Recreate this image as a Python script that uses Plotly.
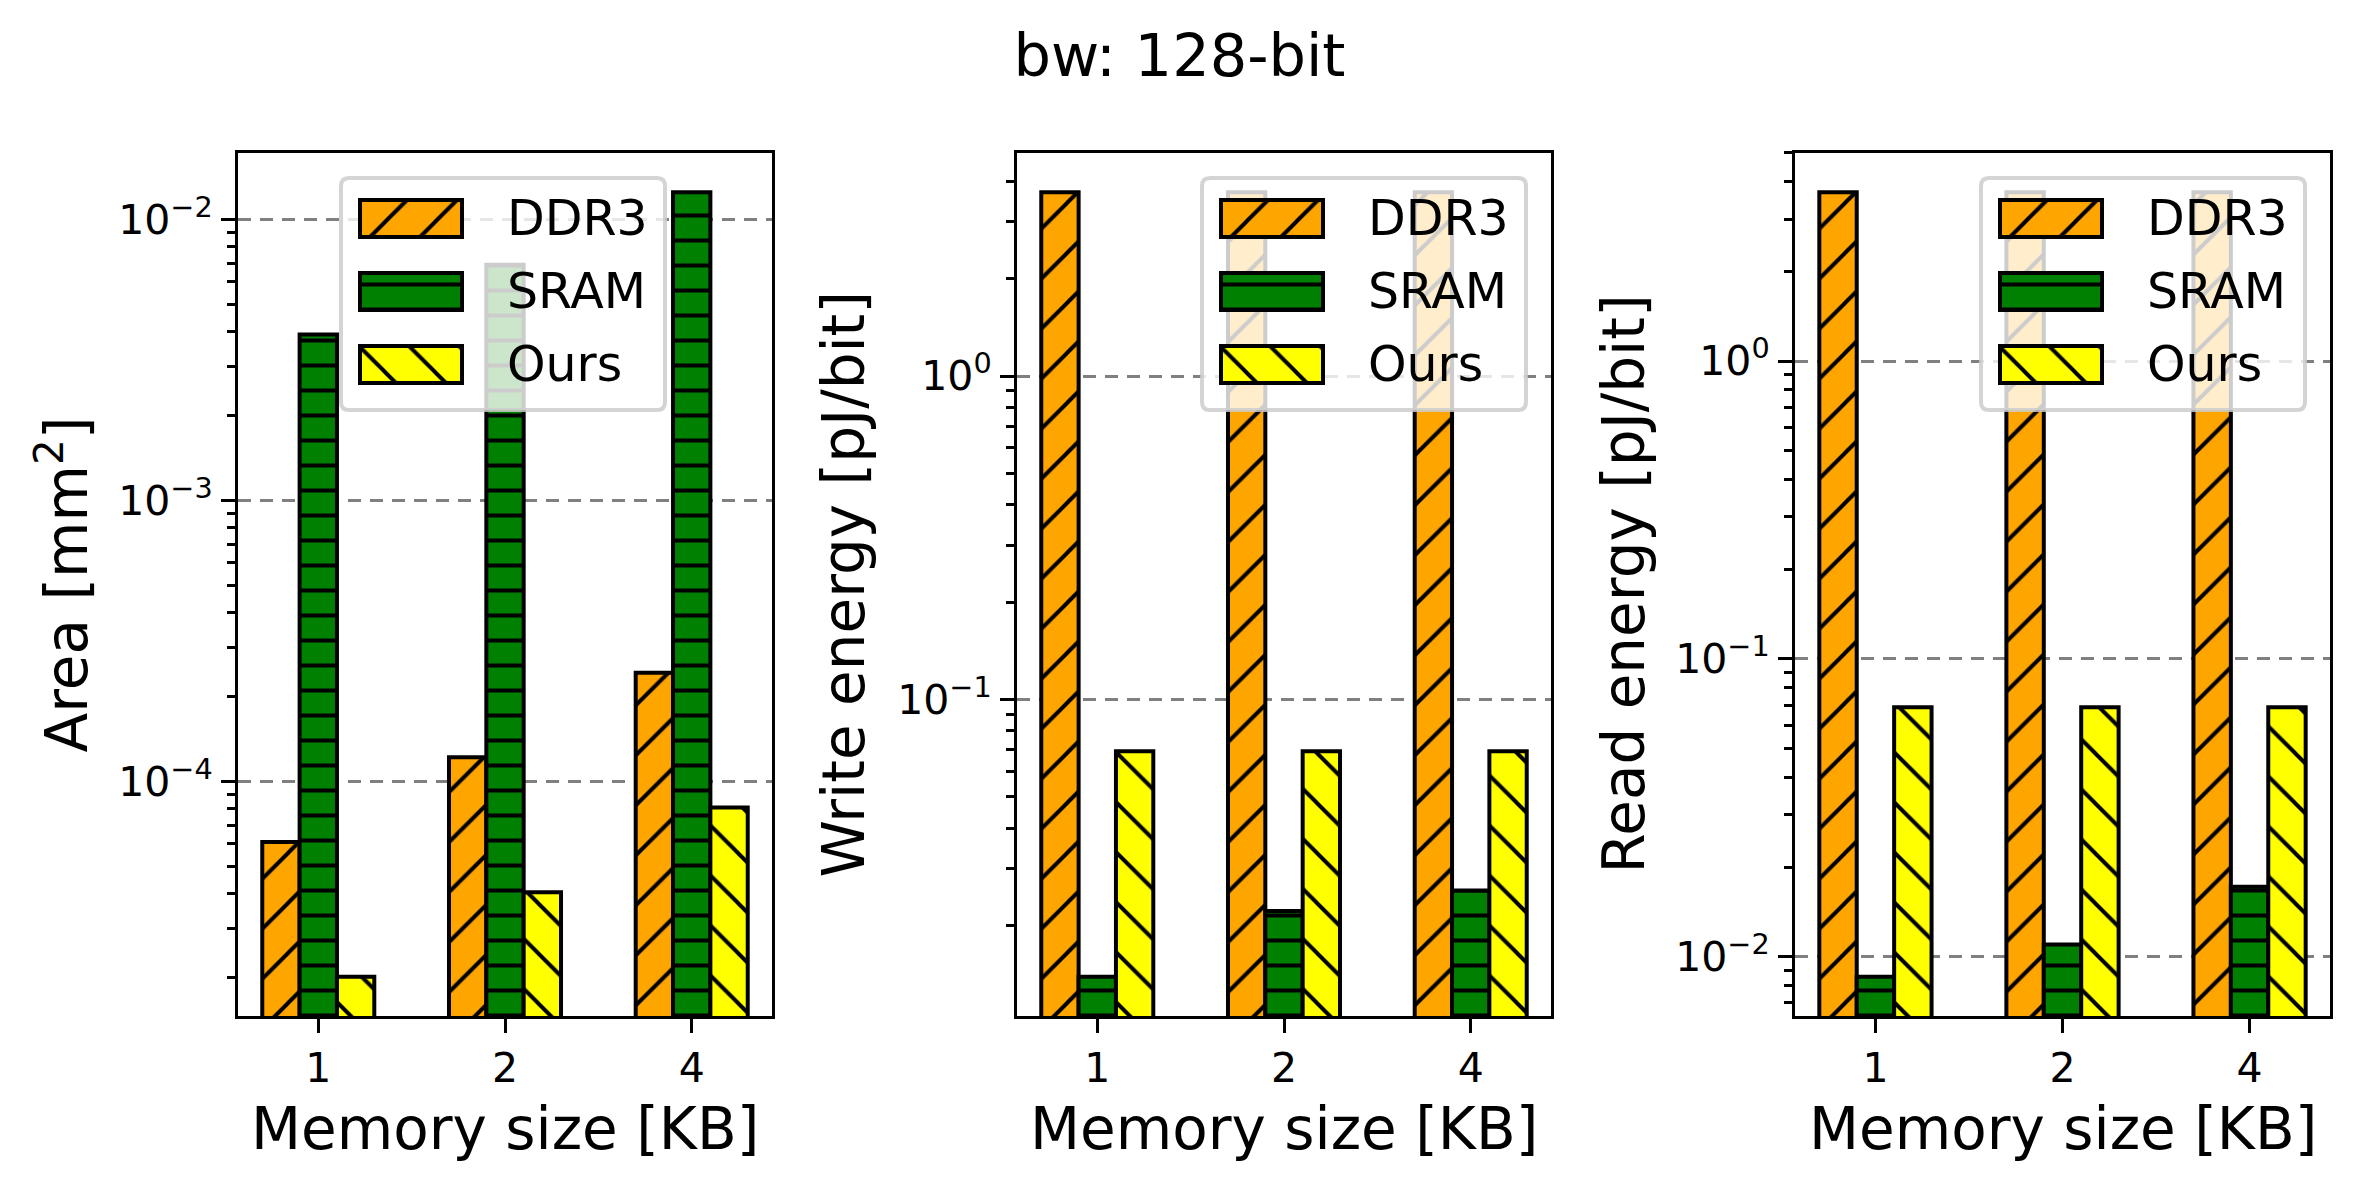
import numpy as np
import plotly.graph_objects as go

# ---------------- data ----------------
sizes = ["1", "2", "4"]                      # memory size [KB]
series = ["DDR3", "SRAM", "Ours"]

area_ddr3 = [6.1e-5, 1.22e-4, 2.44e-4]
area_sram = [3.9e-3, 6.9e-3, 1.25e-2]
area_ours = [2.02e-5, 4.04e-5, 8.08e-5]

write_ddr3 = [3.7, 3.7, 3.7]
write_sram = [0.0139, 0.0222, 0.0257]
write_ours = [0.0692, 0.0692, 0.0692]

read_ddr3 = [3.69, 3.69, 3.69]
read_sram = [0.00857, 0.0110, 0.0172]
read_ours = [0.0689, 0.0689, 0.0689]

title_text = "bw: 128-bit"
xlabel_text = "Memory size [KB]"
ylabels = ["Area [mm<sup>2</sup>]", "Write energy [pJ/bit]", "Read energy [pJ/bit]"]

panel_data = [
    [area_ddr3, area_sram, area_ours],
    [write_ddr3, write_sram, write_ours],
    [read_ddr3, read_sram, read_ours],
]

# ---------------- style / layout ----------------
W, H = 2359, 1191
FONT = "DejaVu Sans"
fills = ["#FFA500", "#008000", "#FFFF00"]
pat_shapes = ["/", "-", "\\"]
pat_sizes = [35.36, 25.0, 35.36]
pat_solid = [0.113, 0.16, 0.113]

ax_x_px = [(238, 772), (1017, 1551), (1795, 2330)]
ax_top_px, ax_bot_px = 153, 1016
legend_left_px = [341, 1202, 1981]
legend_top_px = 178
LEG_W, LEG_H, PAD = 324, 232, 6
SW_X0, SW_W, SW_H = 19, 102, 37
ROW0, ROW_DY = 40.5, 73
TXT_X = 164

SPINE_W = 3.3
EDGE_W = 4


def fx(px):
    return px / W


def fy(py):
    return 1 - py / H


def bar_marker(s):
    return dict(
        color=fills[s],
        line=dict(color="black", width=EDGE_W),
        pattern=dict(shape=pat_shapes[s], size=pat_sizes[s], solidity=pat_solid[s],
                     fgcolor="black", bgcolor=fills[s], fillmode="replace"),
    )


fig = go.Figure()
layout_axes = {}
annotations = []
shapes = []

for k in range(3):
    xa = "x" if k == 0 else f"x{k+1}"
    ya = "y" if k == 0 else f"y{k+1}"
    vals_all = panel_data[k]
    for s, name in enumerate(series):
        fig.add_trace(go.Bar(
            x=sizes, y=vals_all[s], name=name, xaxis=xa, yaxis=ya,
            showlegend=False, marker=bar_marker(s),
        ))

    flat = [v for arr in vals_all for v in arr]
    lo, hi = np.log10(min(flat)), np.log10(max(flat))
    m = 0.05 * (hi - lo)
    ylo, yhi = lo - m, hi + m
    decades = list(range(int(np.ceil(ylo)), int(np.floor(yhi)) + 1))
    tickvals = [10.0 ** d for d in decades]
    ticktext = ["10<sup>" + (("\u2212" + str(-d)) if d < 0 else str(d)) + "</sup>" for d in decades]
    minor_vals = [mm * 10.0 ** d for d in range(int(np.floor(ylo)), int(np.ceil(yhi)) + 1)
                  for mm in range(2, 10)]

    l, r = ax_x_px[k]
    xkey = "xaxis" if k == 0 else f"xaxis{k+1}"
    ykey = "yaxis" if k == 0 else f"yaxis{k+1}"
    layout_axes[xkey] = dict(
        domain=[fx(l), fx(r)], anchor=ya, type="category",
        range=[-0.43, 2.43], showline=True, mirror=True, linecolor="black",
        linewidth=SPINE_W, ticks="outside", ticklen=14, tickwidth=SPINE_W,
        tickcolor="black", tickfont=dict(family=FONT, size=41, color="black"),
        showgrid=False, zeroline=False, fixedrange=True,
    )
    layout_axes[ykey] = dict(
        domain=[fy(ax_bot_px), fy(ax_top_px)], anchor=xa, type="log",
        range=[ylo, yhi], tickmode="array", tickvals=tickvals, ticktext=ticktext,
        ticks="outside", ticklen=14, tickwidth=SPINE_W, tickcolor="black",
        tickfont=dict(family=FONT, size=41, color="black"),
        showline=True, mirror=True, linecolor="black", linewidth=SPINE_W,
        showgrid=True, gridcolor="#808080", gridwidth=3.3, griddash="13px,9px",
        zeroline=False, fixedrange=True,
        minor=dict(tickmode="array", tickvals=minor_vals, ticks="outside",
                   ticklen=8, tickwidth=2.5, tickcolor="black", showgrid=False),
    )

    # axis labels
    annotations.append(dict(
        text=xlabel_text, xref="paper", yref="paper", x=fx((l + r) / 2), y=fy(1129),
        xanchor="center", yanchor="middle", showarrow=False,
        font=dict(family=FONT, size=58, color="black"),
    ))
    ylab_x = [62, 843, 1623][k]
    annotations.append(dict(
        text=ylabels[k], xref="paper", yref="paper", x=fx(ylab_x),
        y=fy((ax_top_px + ax_bot_px) / 2), xanchor="center", yanchor="middle",
        textangle=-90, showarrow=False, font=dict(family=FONT, size=58, color="black"),
    ))

    # ---- legend (drawn in its own small subplot) ----
    lk = k + 4
    lxa, lya = f"x{lk}", f"y{lk}"
    L = legend_left_px[k]
    layout_axes[f"xaxis{lk}"] = dict(
        domain=[fx(L - PAD), fx(L + LEG_W + PAD)], range=[-PAD, LEG_W + PAD],
        anchor=lya, visible=False, fixedrange=True,
    )
    layout_axes[f"yaxis{lk}"] = dict(
        domain=[fy(legend_top_px + LEG_H + PAD), fy(legend_top_px - PAD)],
        range=[LEG_H + PAD, -PAD], anchor=lxa, visible=False, fixedrange=True,
    )
    rr = 8
    path = (f"M {rr},0 L {LEG_W-rr},0 Q {LEG_W},0 {LEG_W},{rr} L {LEG_W},{LEG_H-rr} "
            f"Q {LEG_W},{LEG_H} {LEG_W-rr},{LEG_H} L {rr},{LEG_H} Q 0,{LEG_H} 0,{LEG_H-rr} "
            f"L 0,{rr} Q 0,0 {rr},0 Z")
    shapes.append(dict(type="path", path=path, xref=lxa, yref=lya, layer="below",
                       fillcolor="rgba(255,255,255,0.8)",
                       line=dict(color="rgba(204,204,204,0.85)", width=4)))
    for i, name in enumerate(series):
        row = ROW0 + ROW_DY * i
        fig.add_trace(go.Bar(
            orientation="h", y=[row], x=[SW_W], base=[SW_X0], width=[SW_H],
            offset=-SW_H / 2, xaxis=lxa, yaxis=lya, showlegend=False,
            hoverinfo="skip", marker=bar_marker(i),
        ))
        annotations.append(dict(
            text=name, xref=lxa, yref=lya, x=TXT_X, y=row, xanchor="left",
            yanchor="middle", showarrow=False,
            font=dict(family=FONT, size=49, color="black"),
        ))

fig.update_layout(
    width=W, height=H, autosize=False,
    margin=dict(l=0, r=0, t=0, b=0, pad=0),
    paper_bgcolor="white", plot_bgcolor="rgba(0,0,0,0)",
    barmode="group", bargap=0.4, bargroupgap=0.0,
    font=dict(family=FONT, color="black"),
    title=dict(text=title_text, x=0.5, xanchor="center", xref="paper",
               y=fy(55), yanchor="middle", yref="container",
               font=dict(family=FONT, size=59, color="black")),
    annotations=annotations, shapes=shapes, showlegend=False,
    **layout_axes,
)

fig.write_html("out.html", config={"displayModeBar": False})
